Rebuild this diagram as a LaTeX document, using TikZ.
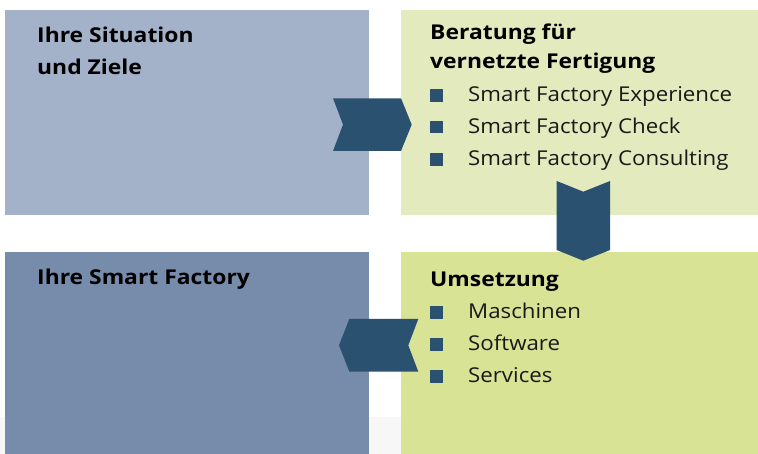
\documentclass[tikz,border=0pt]{standalone}
\usepackage{fontspec}
\setmainfont{Open Sans}[FakeStretch=1.09, BoldFeatures={FakeStretch=1.12}]
\definecolor{boxA}{HTML}{A3B1C9}
\definecolor{boxB}{HTML}{E3EABD}
\definecolor{boxC}{HTML}{778CAA}
\definecolor{boxD}{HTML}{D8E396}
\definecolor{arrowblue}{HTML}{2B5171}
\definecolor{shadowgray}{HTML}{F7F7F7}
\tikzset{
  panel/.style={rectangle, inner sep=0pt, anchor=north west},
  heading/.style={anchor=base west, inner sep=0pt, font=\fontsize{20.5}{24}\selectfont\bfseries, text=black},
  item/.style={anchor=base west, inner sep=0pt, font=\fontsize{20.5}{24}\selectfont, text=black!90},
  chevron/.style={fill=arrowblue},
  bullet/.style={fill=arrowblue}
}
\newcommand{\bulletat}[2]{\fill[bullet] (#1,#2-12.5) rectangle (#1+13,#2);}
\begin{document}
\begin{tikzpicture}[x=1bp,y=-1bp]
\useasboundingbox (0,0) rectangle (758,454);
\fill[white] (0,0) rectangle (758,454);
% faint background band
\fill[shadowgray] (0,417) rectangle (401,454);
% panels
\node[panel, fill=boxA, minimum width=364bp, minimum height=204.5bp] (sit) at (5,10) {};
\node[panel, fill=boxB, minimum width=357bp, minimum height=204.5bp] (ber) at (401,10) {};
\node[panel, fill=boxC, minimum width=364bp, minimum height=202bp] (fac) at (5,252) {};
\node[panel, fill=boxD, minimum width=357bp, minimum height=202bp] (ums) at (401,252) {};
% chevrons
\fill[chevron] (333,98.3) -- (401,98.3) -- (411.7,124.6) -- (401,151) -- (333,151) -- (343,124.6) -- cycle;
\fill[chevron] (556.7,181) -- (583.3,191.7) -- (610,181) -- (610,250) -- (583.3,260.7) -- (556.7,250) -- cycle;
\fill[chevron] (418.3,319) -- (349.3,319) -- (339,345.3) -- (349.3,371.7) -- (418.3,371.7) -- (408.3,345.3) -- cycle;
% texts box 1
\node[heading] (t1a) at (37,42.3) {Ihre Situation};
\node[heading] (t1b) at (37,75) {und Ziele};
% box 2
\node[heading] (t2a) at (430,39.3) {Beratung für};
\node[heading] (t2b) at (430,68.3) {vernetzte Fertigung};
\bulletat{430}{101.7}
\node[item] (i1) at (468,101.7) {Smart Factory Experience};
\bulletat{430}{133.5}
\node[item] (i2) at (468,133.5) {Smart Factory Check};
\bulletat{430}{165.7}
\node[item] (i3) at (468,165.7) {Smart Factory Consulting};
% box 3
\node[heading] (t3) at (37,285) {Ihre Smart Factory};
% box 4
\node[heading] (t4) at (430,286.7) {Umsetzung};
\bulletat{430}{319}
\node[item] (j1) at (468,319) {Maschinen};
\bulletat{430}{351}
\node[item] (j2) at (468,351) {Software};
\bulletat{430}{382.5}
\node[item] (j3) at (468,382.5) {Services};
\end{tikzpicture}
\end{document}
